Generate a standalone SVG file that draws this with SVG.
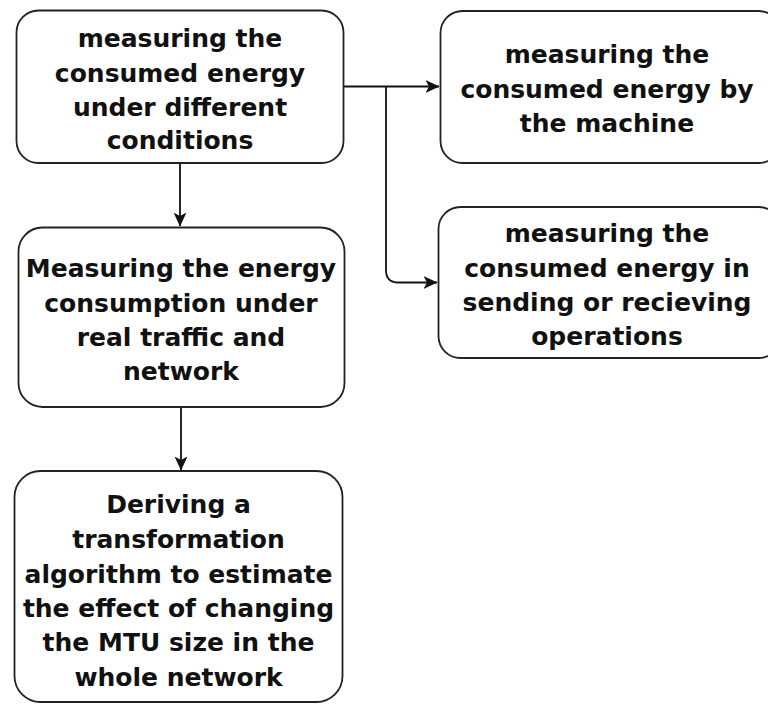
<svg xmlns="http://www.w3.org/2000/svg" width="768" height="704" viewBox="0 0 768 704">
<defs>
<marker id="arr" viewBox="0 0 14 13" refX="13.5" refY="6.5" markerWidth="14" markerHeight="13" markerUnits="userSpaceOnUse" orient="auto">
<path d="M0,0 L14,6.5 L0,13 L3.5,6.5 Z" fill="#111"/>
</marker>
<style>
.box{fill:#fff;stroke:#222;stroke-width:1.8}
.t{font-family:"DejaVu Sans",Verdana,sans-serif;font-weight:bold;font-size:25px;fill:#111;text-anchor:middle}
.c{fill:none;stroke:#111;stroke-width:1.8}
</style>
</defs>
<rect width="768" height="704" fill="#fff"/>
<g id="connectors">
<path class="c" d="M180,163 V226" marker-end="url(#arr)"/>
<path class="c" d="M343,86.5 H439" marker-end="url(#arr)"/>
<path class="c" d="M386,86.5 V270 Q386,282.5 398,282.5 H437" marker-end="url(#arr)"/>
<path class="c" d="M181,407 V470" marker-end="url(#arr)"/>
</g>
<g id="n1">
<rect class="box" x="16.5" y="10.5" width="327" height="152.5" rx="22"/>
<text class="t"><tspan x="180" y="47">measuring the</tspan><tspan x="180" y="81.5">consumed energy</tspan><tspan x="180" y="115.5">under different</tspan><tspan x="180" y="149">conditions</tspan></text>
</g>
<g id="n2">
<rect class="box" x="440.5" y="11" width="340" height="152" rx="22"/>
<text class="t"><tspan x="607" y="63">measuring the</tspan><tspan x="607" y="98">consumed energy by</tspan><tspan x="607" y="132">the machine</tspan></text>
</g>
<g id="n3">
<rect class="box" x="438.5" y="207" width="342" height="151" rx="22"/>
<text class="t"><tspan x="607" y="242">measuring the</tspan><tspan x="607" y="277">consumed energy in</tspan><tspan x="607" y="311">sending or recieving</tspan><tspan x="607" y="345">operations</tspan></text>
</g>
<g id="n4">
<rect class="box" x="18.5" y="227.5" width="326" height="179.5" rx="24"/>
<text class="t"><tspan x="181" y="277">Measuring the energy</tspan><tspan x="181" y="311.5">consumption under</tspan><tspan x="181" y="345.5">real traffic and</tspan><tspan x="181" y="379.5">network</tspan></text>
</g>
<g id="n5">
<rect class="box" x="14.5" y="471" width="328" height="231" rx="26"/>
<text class="t"><tspan x="178.5" y="513">Deriving a</tspan><tspan x="178.5" y="548">transformation</tspan><tspan x="178.5" y="582.5">algorithm to estimate</tspan><tspan x="178.5" y="617">the effect of changing</tspan><tspan x="178.5" y="651">the MTU size in the</tspan><tspan x="178.5" y="685.5">whole network</tspan></text>
</g>
</svg>
